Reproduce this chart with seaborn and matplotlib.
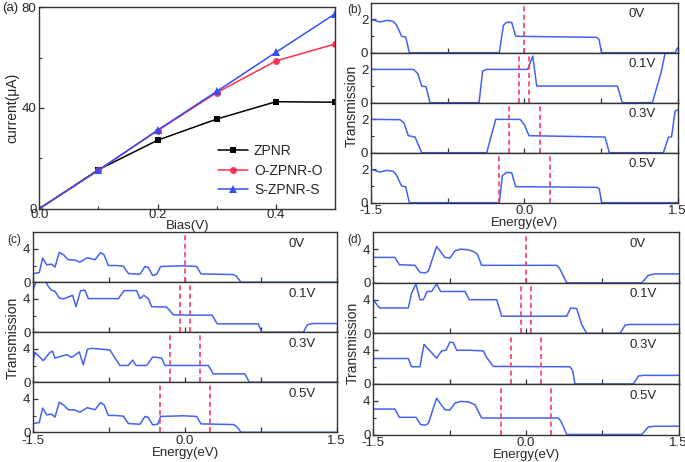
import numpy as np
import pandas as pd
import seaborn as sns
import matplotlib.pyplot as plt
from matplotlib.ticker import FixedLocator

# ---- panel (a): I-V curves
bias = [0.0, 0.1, 0.2, 0.3, 0.4, 0.5]
i_zpnr = [0.0, 15.5, 27.2, 35.6, 42.5, 42.3]
i_ozpnro = [0.0, 15.3, 31.0, 46.1, 58.7, 65.4]
i_szpnrs = [0.0, 15.3, 31.2, 46.6, 62.1, 77.4]

bias_labels = ["0V", "0.1V", "0.3V", "0.5V"]
bias_values = [0.0, 0.1, 0.3, 0.5]

# ---- panel (b): ZPNR transmission
b0_e = [-1.5, -1.412, -1.347, -1.282, -1.249, -1.216, -1.2, -1.161, -1.125, -0.245, -0.205, -0.173,
        -0.124, -0.085, -0.042, 0.708, 0.73, 0.756, 1.474, 1.5]
b0_t = [2.0, 1.84, 1.94, 1.88, 1.64, 1.2, 0.98, 0.94, 0.0, 0.0, 1.64, 1.82,
        1.82, 1.0, 0.98, 0.92, 0.8, 0.0, 0.0, 0.3]
b1_e = [-1.5, -1.086, -1.043, -1.004, -0.962, -0.923, -0.443, -0.408, -0.368, 0.033, 0.082, 0.121,
        0.91, 0.959, 1.252, 1.337, 1.376, 1.40, 1.5]
b1_t = [2.0, 2.0, 1.76, 1.0, 0.96, 0.0, 0.0, 1.9, 2.0, 2.0, 2.8, 1.0,
        1.0, 0.0, 0.0, 1.8, 2.95, 3.5, 3.5]
b3_e = [-1.5, -1.216, -1.177, -1.135, -1.069, -1.004, -0.368, -0.28, -0.042, 0.0, 0.046, 0.789,
        0.831, 1.36, 1.409, 1.44, 1.474, 1.5]
b3_t = [2.0, 1.98, 1.78, 1.02, 0.94, 0.0, 0.0, 2.0, 2.0, 1.68, 1.02, 0.94,
        0.0, 0.0, 0.92, 0.96, 2.48, 2.58]
b5_e = [-1.5, -1.412, -1.347, -1.282, -1.249, -1.216, -1.2, -1.161, -1.125, -0.245, -0.215, -0.173,
        -0.124, -0.085, -0.042, 0.708, 0.733, 0.756, 1.5]
b5_t = [2.0, 1.84, 1.94, 1.88, 1.64, 1.2, 1.0, 0.96, 0.0, 0.0, 1.62, 1.82,
        1.8, 0.96, 0.96, 0.92, 0.84, 0.0, 0.0]

# ---- panel (c): O-ZPNR-O transmission
c0_e = [-1.5, -1.441, -1.408, -1.368, -1.319, -1.286, -1.243, -1.203, -1.154, -1.088, -1.039, -0.966,
        -0.890, -0.834, -0.801, -0.758, -0.692, -0.610, -0.560, -0.445, -0.396, -0.363, -0.320, -0.280,
        -0.241, -0.016, 0.115, 0.158, 0.478, 0.511, 0.554, 1.5]
c0_t = [1.05, 1.17, 2.91, 2.10, 2.18, 1.82, 3.60, 3.31, 2.71, 2.67, 2.42, 2.95,
        2.71, 3.56, 3.31, 2.02, 2.02, 1.94, 1.05, 0.97, 1.90, 1.78, 0.81, 0.97,
        1.90, 1.98, 1.90, 1.01, 0.93, 0.69, 0.0, 0.0]
c1_e = [-1.5, -1.467, -1.385, -1.352, -1.319, -1.286, -1.243, -1.203, -1.137, -1.111, -1.078, -1.032,
        -0.989, -0.956, -0.659, -0.603, -0.478, -0.445, -0.406, -0.363, -0.330, -0.181, -0.115, 0.082,
        0.267, 0.320, 0.725, 0.758, 1.170, 1.210, 1.253, 1.5]
c1_t = [5.13, 6.3, 6.3, 5.5, 5.05, 4.93, 4.12, 4.0, 4.32, 4.44, 3.07, 5.0,
        5.05, 4.04, 4.04, 5.0, 5.0, 4.04, 4.44, 4.04, 3.07, 3.03, 2.1, 2.06,
        2.06, 1.01, 1.01, 0.0, 0.0, 0.89, 1.05, 1.05]
c3_e = [-1.5, -1.484, -1.401, -1.335, -1.309, -1.286, -1.170, -1.121, -1.045, -1.006, -0.966, -0.923,
        -0.742, -0.692, -0.643, -0.561, -0.518, -0.485, -0.379, -0.320, -0.280, -0.231, -0.198, 0.231,
        0.280, 0.593, 0.636, 1.5]
c3_t = [2.71, 3.60, 2.59, 3.60, 3.72, 2.91, 3.31, 2.99, 3.64, 2.10, 3.96, 4.08,
        3.88, 2.91, 2.02, 2.02, 2.67, 2.02, 2.02, 3.03, 2.99, 2.91, 2.02, 2.02,
        1.01, 1.01, 0.0, 0.0]
c5_e = [-1.5, -1.441, -1.408, -1.368, -1.319, -1.286, -1.243, -1.203, -1.154, -1.088, -1.039, -0.966,
        -0.890, -0.834, -0.801, -0.758, -0.692, -0.610, -0.560, -0.445, -0.396, -0.363, -0.320, -0.270,
        -0.241, -0.016, 0.115, 0.158, 0.478, 0.511, 0.554, 1.5]
c5_t = [1.05, 1.17, 2.91, 2.10, 2.18, 1.82, 3.60, 3.31, 2.71, 2.67, 2.42, 2.95,
        2.71, 3.56, 3.31, 2.02, 2.02, 1.94, 1.05, 0.97, 1.90, 1.78, 0.89, 0.97,
        1.90, 1.98, 1.90, 1.01, 0.93, 0.69, 0.0, 0.0]

# ---- panel (d): S-ZPNR-S transmission
d0_e = [-1.5, -1.287, -1.245, -1.091, -1.042, -0.992, -0.960, -0.878, -0.845, -0.796, -0.747, -0.698,
        -0.642, -0.567, -0.518, -0.478, -0.436, 0.301, 0.328, 0.400, 1.137, 1.202, 1.268, 1.5]
d0_t = [3.02, 3.02, 2.16, 2.08, 1.25, 1.18, 1.37, 4.31, 3.8, 3.02, 2.94, 3.8,
        4.0, 3.92, 3.73, 3.41, 2.08, 2.08, 1.76, 0.0, 0.0, 0.9, 1.06, 1.06]
d1_e = [-1.5, -1.441, -1.156, -1.124, -1.081, -1.042, -1.009, -0.970, -0.927, -0.878, -0.839, -0.599,
        -0.557, -0.288, -0.239, 0.400, 0.439, 0.498, 0.547, 0.596, 0.924, 0.973, 1.022, 1.5]
d1_t = [4.0, 3.02, 3.02, 4.78, 5.88, 4.0, 4.0, 4.98, 4.98, 5.88, 4.98, 4.98,
        4.0, 4.0, 2.04, 2.04, 3.02, 2.94, 1.06, 0.0, 0.0, 0.98, 1.06, 1.06]
d3_e = [-1.5, -1.156, -1.124, -1.042, -1.002, -0.943, -0.878, -0.829, -0.786, -0.747, -0.714, -0.681,
        -0.550, -0.419, -0.387, -0.321, 0.432, 0.459, 0.481, 1.055, 1.104, 1.153, 1.5]
d3_t = [3.02, 3.02, 2.04, 2.04, 4.7, 3.92, 3.06, 3.92, 4.0, 4.98, 4.9, 4.0,
        4.0, 3.92, 3.14, 2.08, 2.04, 1.57, 0.0, 0.0, 0.94, 1.02, 1.02]
d5_e = [-1.5, -1.287, -1.245, -1.081, -1.035, -0.992, -0.960, -0.878, -0.845, -0.796, -0.747, -0.698,
        -0.642, -0.567, -0.501, -0.436, 0.317, 0.344, 0.400, 1.137, 1.202, 1.268, 1.5]
d5_t = [3.02, 3.02, 2.04, 2.04, 1.18, 1.1, 1.29, 4.31, 3.73, 2.94, 2.9, 3.73,
        3.92, 3.88, 3.53, 1.96, 1.96, 1.57, 0.0, 0.0, 0.9, 0.98, 0.98]

sns.set_theme(style="ticks")
plt.rcParams["font.family"] = ["Liberation Sans", "DejaVu Sans"]
plt.rcParams["axes.unicode_minus"] = False
plt.rcParams["xtick.direction"] = "in"
plt.rcParams["ytick.direction"] = "in"
plt.rcParams["axes.edgecolor"] = "#333333"
plt.rcParams["axes.linewidth"] = 1.0

W, H = 685, 462
fig = plt.figure(figsize=(W / 100, H / 100), dpi=100)

TR_BLUE = "#4262f2"
DASH_RED = "#ff3a5c"
FS = 9.5


def px_axes(x0, y0, x1, y1):
    return fig.add_axes([x0 / W, 1 - y1 / H, (x1 - x0) / W, (y1 - y0) / H])


def style_ticks(ax):
    ax.tick_params(which="major", length=3.5, width=0.9, labelsize=FS, pad=2, color="#333333")
    ax.tick_params(which="minor", length=2, width=0.8, color="#333333")


# ---- (a)
ax = px_axes(39.3, 7.3, 335, 208.7)
sns.lineplot(x=bias, y=i_zpnr, ax=ax, color="black", marker="s", markersize=5,
             markeredgewidth=0, lw=1.1, label="ZPNR")
sns.lineplot(x=bias, y=i_ozpnro, ax=ax, color="#ff3050", marker="o", markersize=5,
             markeredgewidth=0, lw=1.1, label="O-ZPNR-O")
sns.lineplot(x=bias, y=i_szpnrs, ax=ax, color="#3550f0", marker="^", markersize=5.5,
             markeredgewidth=0, lw=1.1, label="S-ZPNR-S")
ax.set_xlim(0, 0.5)
ax.set_ylim(0, 80)
ax.xaxis.set_major_locator(FixedLocator([0.0, 0.2, 0.4]))
ax.xaxis.set_minor_locator(FixedLocator([0.1, 0.3, 0.5]))
ax.set_xticklabels(["0.0", "0.2", "0.4"])
ax.yaxis.set_major_locator(FixedLocator([0, 40, 80]))
ax.yaxis.set_minor_locator(FixedLocator([20, 60]))
style_ticks(ax)
ax.tick_params(axis="x", pad=0.5)
ax.set_xlabel("Bias(V)", fontsize=FS, labelpad=-1)
ax.set_ylabel("current(\u03bcA)", fontsize=FS + 0.5, labelpad=2)
ax.legend(loc="lower right", bbox_to_anchor=(1.0, -0.005), frameon=False, fontsize=FS + 0.5,
          handlelength=2.2, labelspacing=0.4, handletextpad=0.4)
fig.text(2 / W, 1 - 2 / H, "(a)", fontsize=FS, va="top", ha="left")

# ---- transmission stacks
panels = [
    ("(b)", (371, 2.7, 677.7, 202.7), [(b0_e, b0_t), (b1_e, b1_t), (b3_e, b3_t), (b5_e, b5_t)],
     3, [0, 2], [1], (347, 4), (352, 106)),
    ("(c)", (33.3, 232.3, 336.7, 432.3), [(c0_e, c0_t), (c1_e, c1_t), (c3_e, c3_t), (c5_e, c5_t)],
     6, [0, 4], [2], (7, 234), (13, 338)),
    ("(d)", (373.3, 232.3, 678.7, 434.5), [(d0_e, d0_t), (d1_e, d1_t), (d3_e, d3_t), (d5_e, d5_t)],
     6, [0, 4], [2], (347, 234), (353, 343)),
]

for tag, (x0, y0, x1, y1), curves, ymax, yt, ymt, tagpos, ylpos in panels:
    h = (y1 - y0) / 4
    for k, (e, t) in enumerate(curves):
        ax = px_axes(x0, y0 + k * h, x1, y0 + (k + 1) * h)
        sns.lineplot(x=e, y=t, ax=ax, color=TR_BLUE, lw=1.1, estimator=None, sort=False)
        v = bias_values[k]
        for xv in sorted(set([-v / 2, v / 2])):
            ax.axvline(xv, color=DASH_RED, ls=(0, (3, 2)), lw=1.2)
        ax.set_xlim(-1.5, 1.5)
        ax.set_ylim(0, ymax)
        ax.xaxis.set_major_locator(FixedLocator([-1.5, -0.75, 0.0, 0.75, 1.5]))
        ax.yaxis.set_major_locator(FixedLocator(yt))
        ax.yaxis.set_minor_locator(FixedLocator(ymt))
        ax.set_yticklabels([str(y) for y in yt])
        if k == 3:
            ax.set_xticklabels(["-1.5", "", "0.0", "", "1.5"])
            ax.set_xlabel("Energy(eV)", fontsize=FS, labelpad=0)
        else:
            ax.set_xticklabels([])
        style_ticks(ax)
        ax.text(0.84, 0.77, bias_labels[k], transform=ax.transAxes, fontsize=FS,
                ha="left", va="center")
    fig.text(tagpos[0] / W, 1 - tagpos[1] / H, tag, fontsize=8.5, va="top", ha="left")
    fig.text(ylpos[0] / W, 1 - ylpos[1] / H, "Transmission", fontsize=FS + 0.5, rotation=90,
             ha="center", va="center")

fig.savefig("out.png", dpi=100)
